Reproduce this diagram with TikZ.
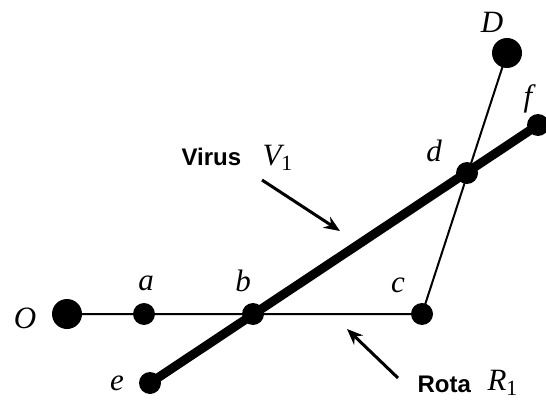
\documentclass[tikz,border=0pt]{standalone}
\usepackage{fontspec}
\setmainfont{Liberation Serif}
\setsansfont{Liberation Sans}
\usetikzlibrary{arrows.meta}
\begin{document}
\begin{tikzpicture}[x=1pt,y=-1pt,
  bigdot/.style={circle,fill=black,inner sep=0pt,minimum size=30pt},
  smalldot/.style={circle,fill=black,inner sep=0pt,minimum size=22pt},
  lbl/.style={font=\fontsize{31}{34}\selectfont\itshape},
  captext/.style={font=\fontsize{24}{28}\selectfont\sffamily\bfseries},
  thinline/.style={line width=2pt},
  thickline/.style={line width=9pt},
  pointer/.style={line width=3pt,-{Stealth[length=16pt,width=13pt]}}]
\useasboundingbox (0,0) rectangle (546,401);
% node positions
\coordinate (O) at (67,314);
\coordinate (a) at (144,314);
\coordinate (b) at (253,314);
\coordinate (c) at (422,314);
\coordinate (d) at (467,173);
\coordinate (D) at (507,53);
\coordinate (e) at (150,383);
\coordinate (f) at (538,125);
% lines
\draw[thinline] (O) -- (c) -- (D);
\draw[thickline] (e) -- (f);
% dots
\node[bigdot] (nO) at (O) {};
\node[bigdot] (nD) at (D) {};
\node[smalldot] (na) at (a) {};
\node[smalldot] (nb) at (b) {};
\node[smalldot] (nc) at (c) {};
\node[smalldot] (nd) at (d) {};
\node[smalldot] (ne) at (e) {};
\node[smalldot] (nf) at (f) {};
% labels
\node[lbl] (lO) at (25,318) {O};
\node[lbl] (la) at (146,283) {a};
\node[lbl] (lb) at (243,281) {b};
\node[lbl] (lc) at (398,285) {c};
\node[lbl] (ld) at (434,151) {d};
\node[lbl] (lD) at (492,22) {D};
\node[lbl] (lf) at (528,99) {f};
\node[lbl] (le) at (117,383) {e};
% captions
\node[captext,anchor=base west] (virus) at (178,165) {Virus};
\node[lbl,anchor=base west] (V1) at (259,165) {V\textsubscript{\normalfont 1}};
\node[captext,anchor=base west] (rota) at (414,392) {Rota};
\node[lbl,anchor=base west] (R1) at (484,390) {R\textsubscript{\normalfont 1}};
% arrows
\coordinate (vt) at (262,180);
\coordinate (vh) at (340,231);
\coordinate (rt) at (398,378);
\coordinate (rh) at (347,329);
\draw[pointer] (vt) -- (vh);
\draw[pointer] (rt) -- (rh);
\end{tikzpicture}
\end{document}
